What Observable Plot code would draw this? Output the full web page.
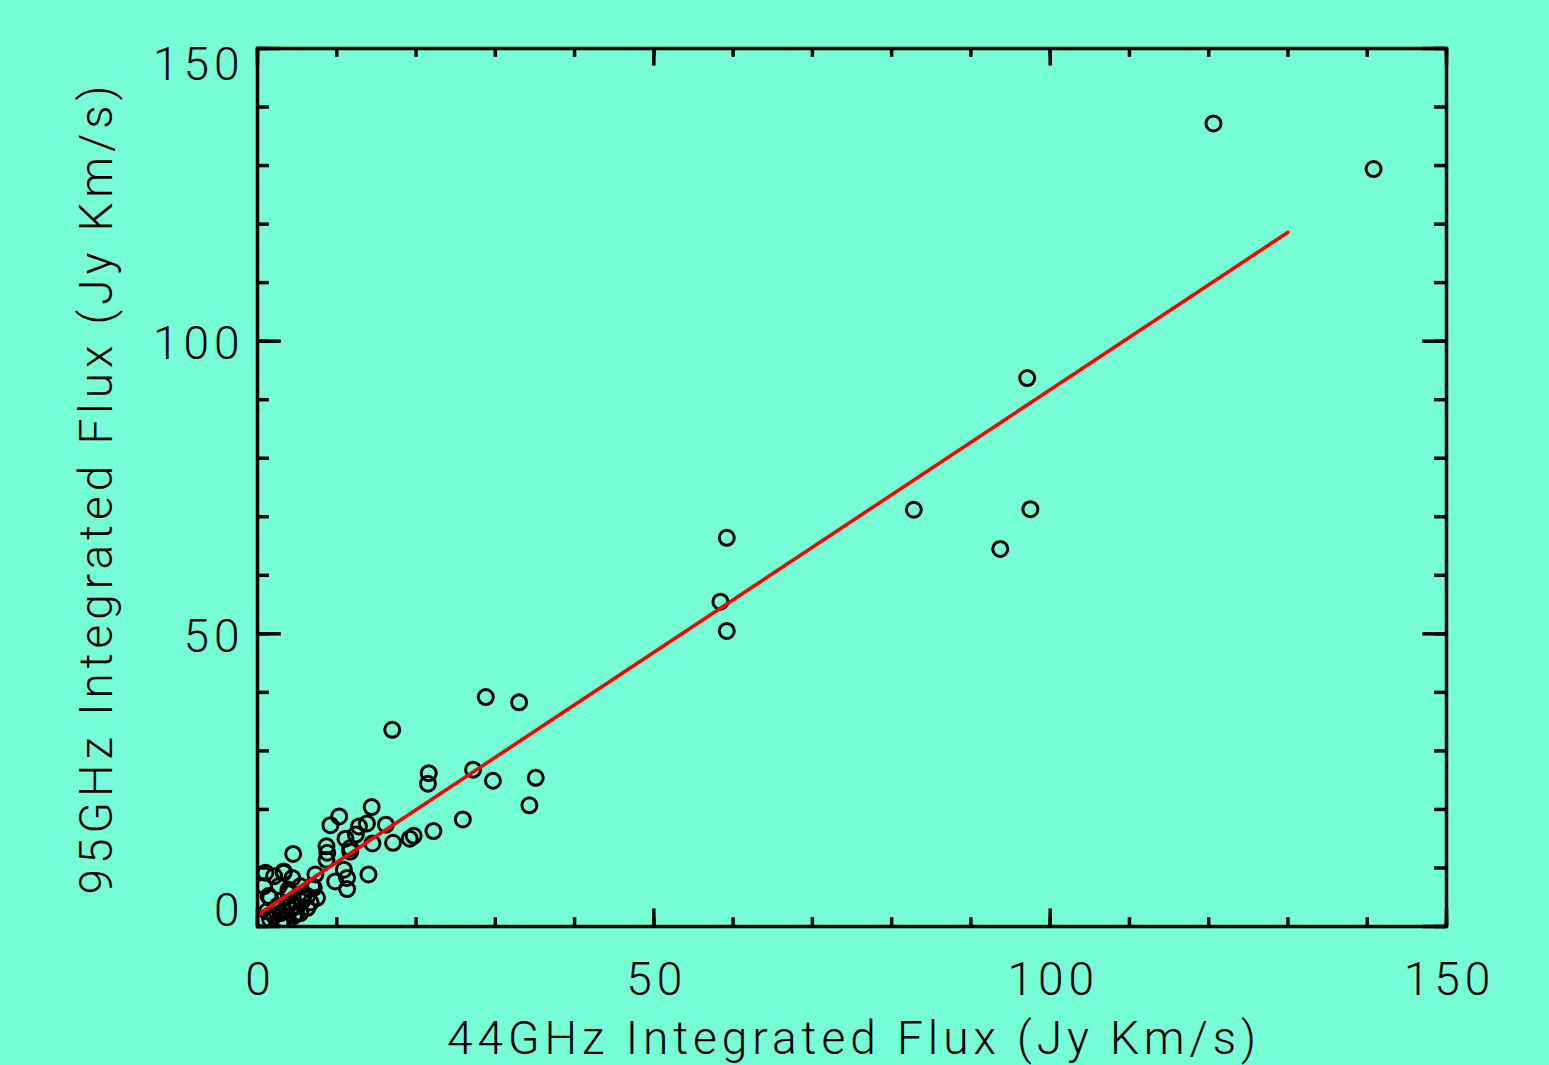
<!DOCTYPE html>
<html>
<head>
<meta charset="utf-8">
<script src="https://cdn.jsdelivr.net/npm/d3@7"></script>
<script src="https://cdn.jsdelivr.net/npm/@observablehq/plot@0.6"></script>
<style>
  html, body { margin: 0; padding: 0; background: #76fdd6; }
  #chart svg text { letter-spacing: 5px; }
</style>
</head>
<body>
<div id="chart"></div>
<script>
// 44 GHz integrated flux (Jy km/s)
const flux44 = [
  120.6, 140.8, 97.1, 97.5, 82.8, 93.7, 59.2, 58.4, 59.2, 28.8,
  33.0, 17.0, 27.2, 21.6, 21.5, 29.7, 35.1, 34.3, 25.9, 22.2,
  14.4, 10.3, 9.2, 12.8, 13.8, 16.2, 19.2, 19.7, 17.1, 14.5,
  12.4, 11.1, 11.7, 8.7, 8.8, 8.7, 4.5, 14.0, 10.9, 9.8,
  11.3, 11.3, 11.7, 7.3, 6.9, 7.5, 6.3, 5.6, 5.0, 4.2,
  2.9, 5.4, 4.6, 3.3, 2.1, 2.9, 1.2, 1.0, 2.1, 3.3,
  4.4, 0.8, 1.6, 3.9, 2.5, 0.8, 2.7, 3.9, 5.4, 7.1,
  1.4, 3.3, 4.2, 5.8, 6.3, 1.6, 3.3, 4.9, 6.7, 3.7
];
// 95 GHz integrated flux (Jy km/s)
const flux95 = [
  137.2, 129.4, 93.7, 71.3, 71.2, 64.5, 66.4, 55.5, 50.5, 39.2,
  38.3, 33.6, 26.8, 26.2, 24.4, 24.9, 25.4, 20.7, 18.3, 16.3,
  20.4, 18.8, 17.3, 17.1, 17.6, 17.4, 15.0, 15.5, 14.3, 14.2,
  15.7, 15.0, 13.4, 13.7, 12.6, 11.4, 12.4, 8.9, 9.7, 7.7,
  8.3, 6.4, 12.8, 8.9, 6.9, 4.9, 5.2, 4.3, 3.5, 2.9,
  2.3, 2.3, 1.8, 1.2, 1.8, 0.6, 2.6, 9.2, 8.6, 9.2,
  8.3, 6.9, 4.9, 6.3, 3.5, 1.2, 6.9, 5.7, 6.9, 6.6,
  5.2, 2.6, 4.0, 5.2, 3.2, 1.2, 9.4, 2.2, 4.1, 3.8
];
// Linear fit
const fitX = [0, 130];
const fitY = [2.0, 118.6];
// Ticks
const majorTicks = [0, 50, 100, 150];
const minorTicks = [0, 10, 20, 30, 40, 50, 60, 70, 80, 90, 100, 110, 120, 130, 140, 150];
const xLabels = ["0", "50", "100", "150"];
const xTitle = "44GHz Integrated Flux (Jy Km/s)";
const yTitle = "95GHz Integrated Flux (Jy Km/s)";

const points = flux44.map((x, i) => ({x, y: flux95[i]}));
const fit = fitX.map((x, i) => ({x, y: fitY[i]}));

const W = 1549, H = 1065;
const mL = 257, mR = 103, mT = 48, mB = 139;
const fw = W - mL - mR, fh = H - mT - mB;
const font = "Roboto, 'DejaVu Sans', sans-serif";
const fs = 46;
const sw = 3.5;

const yLabelMarks = [
  {v: 150, dy: 17}, {v: 100, dy: 3}, {v: 50, dy: 3}, {v: 0, dy: -15}
].map(({v, dy}) => Plot.text([v], {
  y: d => d, text: d => String(d), frameAnchor: "left", dx: -13, dy,
  textAnchor: "end", lineAnchor: "middle", fontSize: fs, fontFamily: font, fontWeight: 300, fill: "black"
}));

const chart = Plot.plot({
  width: W, height: H,
  marginLeft: mL, marginRight: mR, marginTop: mT, marginBottom: mB,
  style: {background: "#76fdd6", overflow: "visible"},
  x: {domain: [0, 150], axis: null},
  y: {domain: [0, 150], axis: null},
  marks: [
    Plot.dot(points, {x: "x", y: "y", r: 7.5, stroke: "black", strokeWidth: 3, fill: "none", clip: "frame"}),
    Plot.line(fit, {x: "x", y: "y", stroke: "#ff0000", strokeWidth: 3.5}),
    // bottom/top ticks
    Plot.tickX(majorTicks, {x: d => d, insetTop: fh - 17.6, stroke: "black", strokeWidth: sw}),
    Plot.tickX(minorTicks, {x: d => d, insetTop: fh - 8.8, stroke: "black", strokeWidth: sw}),
    Plot.tickX(majorTicks, {x: d => d, insetBottom: fh - 17.6, stroke: "black", strokeWidth: sw}),
    Plot.tickX(minorTicks, {x: d => d, insetBottom: fh - 8.8, stroke: "black", strokeWidth: sw}),
    // left/right ticks
    Plot.tickY(majorTicks, {y: d => d, insetRight: fw - 23.8, stroke: "black", strokeWidth: sw}),
    Plot.tickY(minorTicks, {y: d => d, insetRight: fw - 11.9, stroke: "black", strokeWidth: sw}),
    Plot.tickY(majorTicks, {y: d => d, insetLeft: fw - 23.8, stroke: "black", strokeWidth: sw}),
    Plot.tickY(minorTicks, {y: d => d, insetLeft: fw - 11.9, stroke: "black", strokeWidth: sw}),
    Plot.frame({stroke: "black", strokeWidth: sw}),
    // x tick labels
    Plot.text(majorTicks, {x: d => d, text: (d, i) => xLabels[i], frameAnchor: "bottom", dx: 3, dy: 54,
      lineAnchor: "middle", textAnchor: "middle",
      fontSize: fs, fontFamily: font, fontWeight: 300, fill: "black"}),
    ...yLabelMarks,
    Plot.text([xTitle], {text: d => d, frameAnchor: "bottom", dx: 2, dy: 113,
      lineAnchor: "middle", textAnchor: "middle",
      fontSize: fs, fontFamily: font, fontWeight: 300, fill: "black"}),
    Plot.text([yTitle], {text: d => d, frameAnchor: "left", dx: -160, rotate: -90,
      lineAnchor: "middle", textAnchor: "middle",
      fontSize: fs, fontFamily: font, fontWeight: 300, fill: "black"})
  ]
});
document.getElementById("chart").appendChild(chart);
</script>
</body>
</html>
